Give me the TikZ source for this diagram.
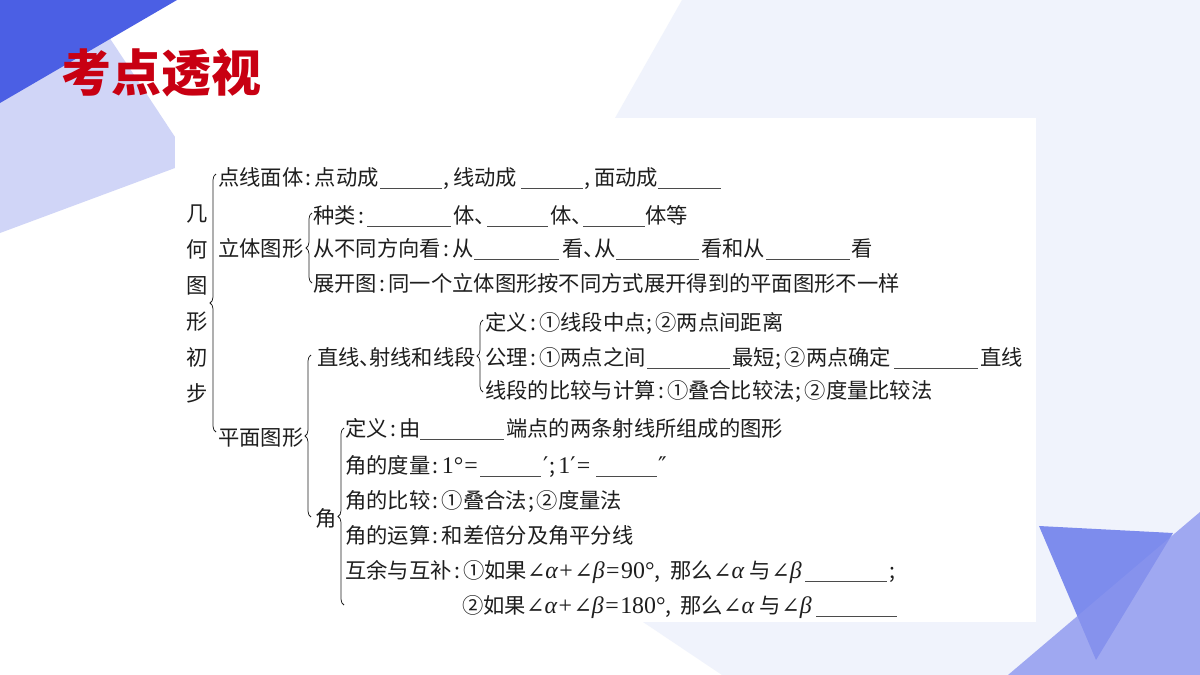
\documentclass[tikz,border=0pt]{standalone}
\usepackage[no-math]{fontspec}
\setmainfont{Noto Sans CJK SC}
\newfontfamily\latf[Scale=1.12]{Liberation Serif}
\newfontfamily\dvf{DejaVu Serif}
\usetikzlibrary{decorations.pathreplacing}
\definecolor{ink}{RGB}{30,30,30}
\definecolor{dblue}{RGB}{75,95,228}
\definecolor{lav}{RGB}{208,213,247}
\definecolor{pale}{RGB}{240,243,252}
\definecolor{trione}{RGB}{125,140,237}
\definecolor{tritwo}{RGB}{137,148,238}
\definecolor{tred}{RGB}{200,0,18}
\newcommand\cn{\hspace{2.5pt}:\hspace{3pt}}
\newcommand\sm{\hspace{1pt};\hspace{3pt}}
\newcommand\angsym{{\dvf\fontsize{22pt}{22pt}\selectfont ∠}}
\newcommand\galpha{{\latf\itshape α}}
\newcommand\gbeta{{\latf\itshape β}}
\newcommand\lop[1]{\hspace{1.5pt}{\latf #1}\hspace{1.5pt}}
\newcommand\lnum[1]{{\latf #1}}
\newcommand\prm{{\dvf\fontsize{23pt}{23pt}\selectfont ′}}
\newcommand\dprm{{\dvf\fontsize{23pt}{23pt}\selectfont ″}}
\tikzset{
  txt/.style={anchor=base west, inner sep=0pt, font=\fontsize{21.3pt}{21.3pt}\selectfont, text=ink},
  txte/.style={txt, anchor=base east},
  vtxt/.style={txt, anchor=base},
  ttl/.style={anchor=base west, inner sep=0pt, font=\fontsize{50pt}{50pt}\selectfont\bfseries, text=tred},
  blank/.style={draw=ink!80, line width=0.8pt},
  brc/.style={decorate, decoration={brace, amplitude=6pt}, draw=ink, line width=0.75pt},
}
\begin{document}
\begin{tikzpicture}[x=1pt,y=-1pt]
\useasboundingbox (0,0) rectangle (1200,675);
\fill[white] (0,0) rectangle (1200,675);
% background shapes
\fill[pale] (682,0) -- (1200,0) -- (1200,675) -- (722,675) -- (643,622) -- (600,400) -- (615,118) -- cycle;
\fill[lav] (0,60) -- (97.8,20) -- (175,137) -- (175,168) -- (0,233) -- cycle;
\fill[dblue] (0,0) -- (177,0) -- (0,103) -- cycle;
\fill[white] (175,118) rectangle (1036,622);
\fill[trione] (1039,526) -- (1173,533) -- (1096,660) -- cycle;
\fill[tritwo, opacity=0.78] (1008,675) -- (1200,512) -- (1200,675) -- cycle;
% title
\node[ttl] (title) at (61,91) {考点透视};
% vertical label
\node[vtxt] (v1) at (197,221) {几};
\node[vtxt] (v2) at (197,257) {何};
\node[vtxt] (v3) at (197,293) {图};
\node[vtxt] (v4) at (197,329) {形};
\node[vtxt] (v5) at (197,365) {初};
\node[vtxt] (v6) at (197,401) {步};
% braces
\draw[brc] (216,432) -- (216,174);
\draw[brc] (312,283) -- (312,213);
\draw[brc] (311,517) -- (311,355);
\draw[brc] (483,392) -- (483,320);
\draw[brc] (344,605) -- (344,428);
% row 1
\node[txt] (r1a) at (218,185) {点线面体\cn 点动成};
\draw[blank] (380,188) -- (442,188);
\node[txt] (r1b) at (443,185) {,\hspace{4pt}线动成};
\draw[blank] (521,188) -- (583,188);
\node[txt] (r1c) at (584,185) {,\hspace{4pt}面动成};
\draw[blank] (658,188) -- (721,188);
% 立体图形
\node[txt] (lt) at (218,256) {立体图形};
\node[txt] (r2a) at (313,223) {种类\cn};
\draw[blank] (367,226) -- (451,226);
\node[txt] (r2b) at (453,223) {体、};
\draw[blank] (487,226) -- (548,226);
\node[txt] (r2c) at (550,223) {体、};
\draw[blank] (583,226) -- (645,226);
\node[txt] (r2d) at (645,223) {体等};
\node[txt] (r3a) at (313,256) {从不同方向看\cn 从};
\draw[blank] (474,259) -- (559,259);
\node[txt] (r3b) at (562,256) {看、\hspace{-10pt}从};
\draw[blank] (616,259) -- (699,259);
\node[txt] (r3c) at (701,256) {看和从};
\draw[blank] (766,259) -- (850,259);
\node[txt] (r3d) at (851,256) {看};
\node[txt] (r4) at (313,291) {展开图\cn 同一个立体图形按不同方式展开得到的平面图形不一样};
% 平面图形
\node[txt] (pm) at (218,445) {平面图形};
\node[txt] (zx) at (317,365) {直线、\hspace{-12pt}射线和线段};
\node[txt] (r5) at (485,330) {定义\cn ①线段中点\sm ②两点间距离};
\node[txt] (r6a) at (485,365) {公理\cn ①两点之间};
\draw[blank] (647,368) -- (730,368);
\node[txt] (r6b) at (732,365) {最短\sm ②两点确定};
\draw[blank] (894,368) -- (978,368);
\node[txt] (r6c) at (980,365) {直线};
\node[txt] (r7) at (485,398) {线段的比较与计算\cn ①叠合比较法\sm ②度量比较法};
% 角
\node[txt] (jiao) at (315,526) {角};
\node[txt] (r8a) at (345,436) {定义\cn 由};
\draw[blank] (420,439) -- (504,439);
\node[txt] (r8b) at (506,436) {端点的两条射线所组成的图形};
\node[txt] (r9a) at (345,473) {角的度量\cn\lnum{1°}\hspace{1pt}{\latf =}};
\draw[blank] (480,476) -- (541,476);
\node[txt] (r9b) at (543,473) {\prm\sm\lnum{1}\prm\lop{=}};
\draw[blank] (596,476) -- (657,476);
\node[txt] (r9c) at (658,473) {\dprm};
\node[txt] (r10) at (345,508) {角的比较\cn ①叠合法\sm ②度量法};
\node[txt] (r11) at (345,543) {角的运算\cn 和差倍分及角平分线};
\node[txt] (r12a) at (345,578) {互余与互补\cn ①如果\angsym\galpha\lop{+}\angsym\gbeta\lop{=}\lnum{90°},};
\node[txte] (r12b) at (802,578) {那么\angsym\galpha\hspace{5pt}与\hspace{1pt}\angsym\gbeta};
\draw[blank] (805,581) -- (887,581);
\node[txt] (r12c) at (889,578) {;};
\node[txt] (r13a) at (462,613) {②如果\angsym\galpha\lop{+}\angsym\gbeta\lop{=}\lnum{180°},};
\node[txte] (r13b) at (812,613) {那么\angsym\galpha\hspace{5pt}与\hspace{1pt}\angsym\gbeta};
\draw[blank] (816,616) -- (897,616);
\end{tikzpicture}
\end{document}
